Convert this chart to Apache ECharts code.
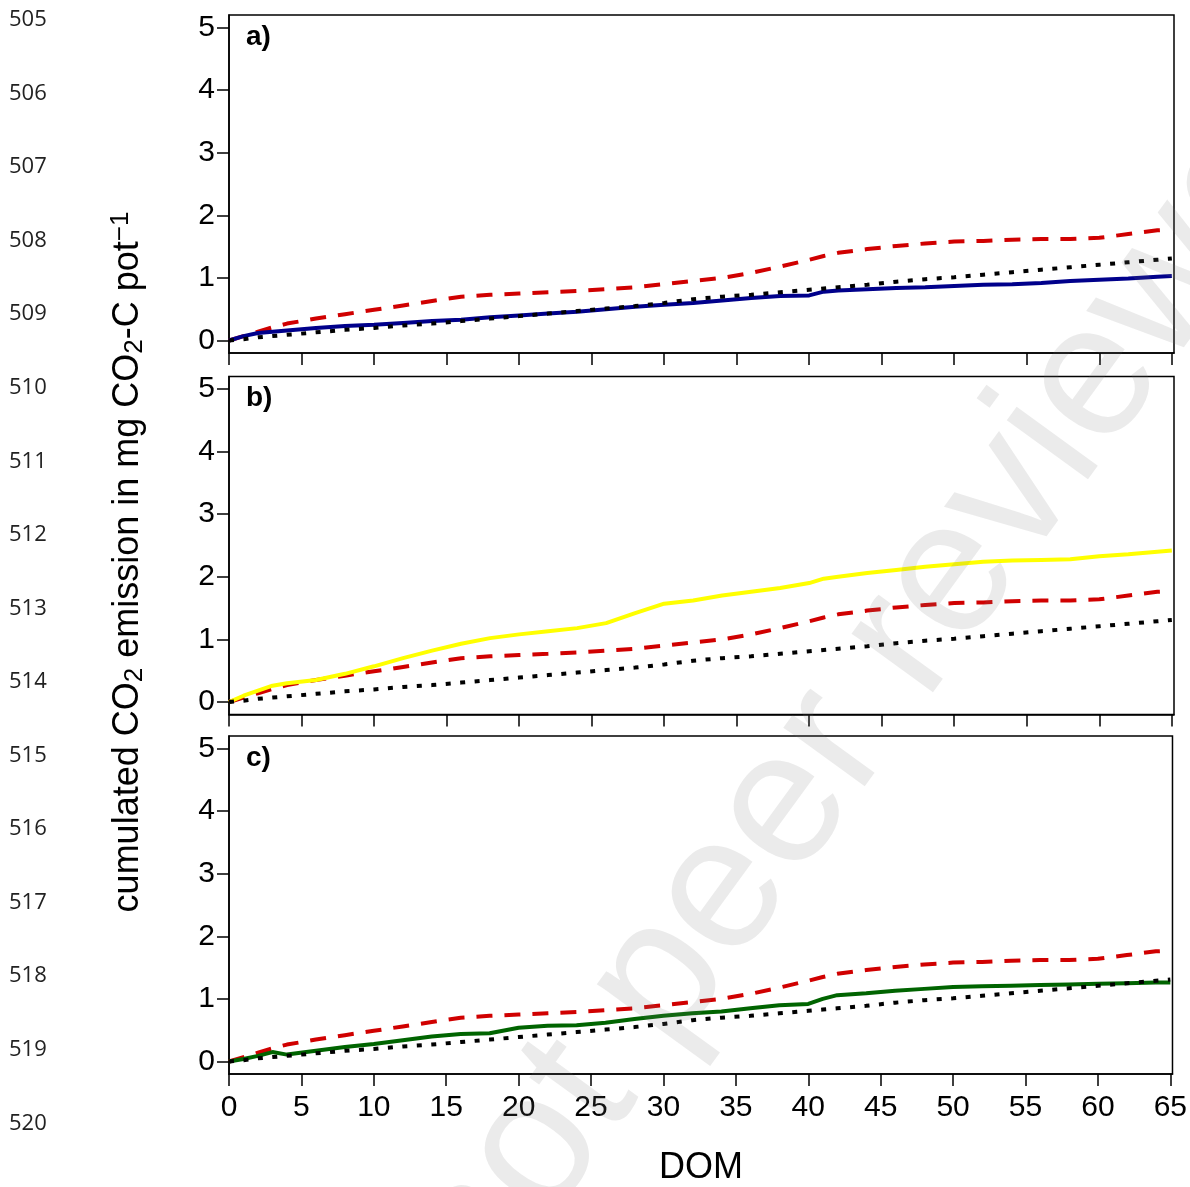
<!DOCTYPE html>
<html>
<head>
<meta charset="utf-8">
<script src="https://cdn.jsdelivr.net/npm/echarts@6/dist/echarts.min.js"></script>
<style>
html, body { margin: 0; padding: 0; background: #fff; }
#chart { width: 1190px; height: 1187px; }
</style>
</head>
<body>
<div id="chart"></div>
<script>
// day of measurement (DOM)
const days = [0, 1, 2, 3, 4, 6, 8, 10, 12, 14, 16, 18, 20, 22, 24, 26, 28, 30, 32, 34, 36, 38, 40, 41, 42, 44, 46, 48, 50, 52, 54, 56, 58, 60, 62, 64, 65]
// black dotted (control), same in every panel
const control = [0, 0.02, 0.05, 0.07, 0.09, 0.13, 0.17, 0.2, 0.24, 0.27, 0.31, 0.35, 0.39, 0.43, 0.47, 0.51, 0.55, 0.6, 0.66, 0.7, 0.73, 0.77, 0.81, 0.83, 0.85, 0.89, 0.94, 0.98, 1.01, 1.05, 1.09, 1.13, 1.17, 1.21, 1.25, 1.29, 1.31]
// red dashed, same in every panel
const redDashed = [0, 0.07, 0.14, 0.21, 0.27, 0.35, 0.42, 0.49, 0.56, 0.63, 0.7, 0.73, 0.75, 0.77, 0.79, 0.82, 0.85, 0.9, 0.95, 1.0, 1.08, 1.18, 1.29, 1.35, 1.4, 1.46, 1.51, 1.55, 1.58, 1.59, 1.61, 1.62, 1.62, 1.64, 1.7, 1.76, 1.77]
// solid lines, one per panel
const bluePanelA = [0, 0.07, 0.12, 0.14, 0.16, 0.2, 0.23, 0.25, 0.28, 0.31, 0.33, 0.37, 0.4, 0.43, 0.46, 0.5, 0.54, 0.57, 0.6, 0.64, 0.68, 0.71, 0.72, 0.78, 0.8, 0.82, 0.84, 0.85, 0.87, 0.89, 0.9, 0.92, 0.95, 0.97, 0.99, 1.02, 1.03]
const yellowPanelB = [0, 0.1, 0.18, 0.26, 0.3, 0.35, 0.45, 0.57, 0.7, 0.82, 0.93, 1.02, 1.08, 1.13, 1.18, 1.26, 1.42, 1.57, 1.62, 1.7, 1.76, 1.82, 1.9, 1.97, 2.0, 2.06, 2.11, 2.16, 2.2, 2.24, 2.26, 2.27, 2.28, 2.33, 2.36, 2.4, 2.42]
const greenPanelC = [0, 0.04, 0.09, 0.15, 0.11, 0.17, 0.23, 0.28, 0.34, 0.4, 0.44, 0.45, 0.54, 0.57, 0.58, 0.62, 0.68, 0.73, 0.77, 0.8, 0.85, 0.9, 0.92, 1.0, 1.06, 1.09, 1.13, 1.16, 1.19, 1.2, 1.21, 1.22, 1.23, 1.24, 1.25, 1.26, 1.26]

const panelLabels = ['a)', 'b)', 'c)']
const yTicks = [0, 1, 2, 3, 4, 5]
const xTicks = [0, 5, 10, 15, 20, 25, 30, 35, 40, 45, 50, 55, 60, 65]
const lineNumbers = ['505', '506', '507', '508', '509', '510', '511', '512', '513', '514', '515', '516', '517', '518', '519', '520']

const pair = vals => days.map((d, i) => [d, vals[i]])

const chart = echarts.init(document.getElementById('chart'))

const tops = [15, 376.5, 736]
const gridH = 338
const font = 'Liberation Sans, Arial, sans-serif'

const grids = tops.map(t => ({
  left: 229,
  width: 945,
  top: t,
  height: gridH,
  show: true,
  borderColor: '#000',
  borderWidth: 1.5,
  backgroundColor: 'transparent'
}))

const xAxes = tops.map((t, i) => ({
  type: 'value',
  gridIndex: i,
  min: 0,
  max: 65.15,
  splitLine: { show: false },
  axisLine: { show: true, onZero: false, lineStyle: { color: '#000', width: 1.5 } },
  axisTick: { show: true, length: 12, customValues: xTicks, lineStyle: { color: '#000', width: 1.5 } },
  axisLabel: {
    show: i === 2,
    customValues: xTicks,
    margin: 19,
    fontSize: 30,
    color: '#000',
    fontFamily: font
  }
}))

const yAxes = tops.map((t, i) => ({
  type: 'value',
  gridIndex: i,
  min: -0.2,
  max: 5.2,
  splitLine: { show: false },
  axisLine: { show: true, onZero: false, lineStyle: { color: '#000', width: 1.5 } },
  axisTick: { show: true, length: 12, customValues: yTicks, lineStyle: { color: '#000', width: 1.5 } },
  axisLabel: {
    customValues: yTicks,
    margin: 14,
    fontSize: 30,
    color: '#000',
    fontFamily: font
  }
}))

const solids = [
  { data: bluePanelA, color: '#00008B' },
  { data: yellowPanelB, color: '#FFFF00' },
  { data: greenPanelC, color: '#006400' }
]

const series = []
solids.forEach((s, i) => {
  series.push({
    type: 'line',
    xAxisIndex: i,
    yAxisIndex: i,
    data: pair(redDashed),
    symbol: 'none',
    lineStyle: { color: '#D00000', width: 4, type: [16, 12], cap: 'butt' }
  })
  series.push({
    type: 'line',
    xAxisIndex: i,
    yAxisIndex: i,
    data: pair(s.data),
    symbol: 'none',
    lineStyle: { color: s.color, width: 4 }
  })
  series.push({
    type: 'line',
    xAxisIndex: i,
    yAxisIndex: i,
    data: pair(control),
    symbol: 'none',
    lineStyle: { color: '#000', width: 4, type: [5, 9.5], cap: 'butt' }
  })
})

const graphics = []
panelLabels.forEach((lab, i) => {
  graphics.push({
    type: 'text',
    left: 246,
    top: tops[i] + 8,
    style: { text: lab, font: 'bold 28px ' + font, fill: '#000' }
  })
})
lineNumbers.forEach((n, i) => {
  graphics.push({
    type: 'text',
    x: 9,
    y: 20 + i * 73.55,
    style: { text: n, font: '22px Open Sans, sans-serif', fill: '#222', verticalAlign: 'middle' }
  })
})
graphics.push({
  type: 'text',
  x: 128,
  y: 562,
  rotation: Math.PI / 2,
  style: {
    text: '{n|cumulated CO}{sub|2}{n| emission in mg CO}{sub|2}{n|-C pot}{sup|−1}',
    align: 'center',
    verticalAlign: 'middle',
    fill: '#000',
    rich: {
      n: { fontSize: 36, fontFamily: font, fill: '#000', lineHeight: 40 },
      sub: { fontSize: 26, fontFamily: font, fill: '#000', verticalAlign: 'bottom', lineHeight: 26, padding: [16, 0, 0, 0] },
      sup: { fontSize: 26, fontFamily: font, fill: '#000', verticalAlign: 'top', lineHeight: 26, padding: [0, 0, 16, 0] }
    }
  }
})
graphics.push({
  type: 'text',
  x: 701,
  y: 1168,
  style: { text: 'DOM', font: '36px ' + font, fill: '#000', align: 'center', verticalAlign: 'middle' }
})
// preprint watermark on top
graphics.push({
  type: 'text',
  x: 886,
  y: 668,
  rotation: 54 * Math.PI / 180,
  silent: true,
  z: 100,
  style: {
    text: 'not peer reviewed',
    font: '190px ' + font,
    fill: 'rgba(120,120,120,0.15)',
    align: 'center',
    verticalAlign: 'middle'
  }
})

const option = {
  animation: false,
  backgroundColor: '#fff',
  grid: grids,
  xAxis: xAxes,
  yAxis: yAxes,
  series: series,
  graphic: graphics
}
chart.setOption(option, true)
</script>
</body>
</html>
